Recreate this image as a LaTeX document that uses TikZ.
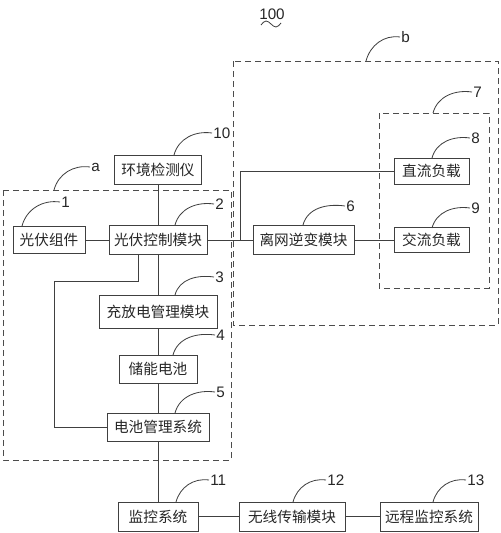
\documentclass[tikz,border=0pt]{standalone}
\usepackage{fontspec}
\setmainfont{Liberation Sans}
\newfontfamily\cjk{Noto Sans CJK SC}
\usetikzlibrary{positioning}

\begin{document}
\begin{tikzpicture}
	[x=0.03cm,y=-0.03cm,
	 blk/.style={draw=black!75,line width=0.8pt,rectangle,minimum height=0.87cm,inner sep=1pt,text=black!85,font=\cjk\fontsize{12.5}{15}\selectfont},
	 grp/.style={draw=black!70,line width=0.7pt,dash pattern=on 0.18cm off 0.12cm},
	 wire/.style={draw=black!75,line width=0.7pt},
	 lbl/.style={anchor=west,inner sep=1pt,text=black!85,font=\fontsize{13}{15}\selectfont},
	 lead/.style={draw=black!75,line width=0.7pt}]
	\useasboundingbox (0,0) rectangle (500,533);

	\draw[grp] (3,190) rectangle (231,460);
	\draw[grp] (233,61) rectangle (498,325);
	\draw[grp] (379,113) rectangle (489,288);

	\node[blk, minimum width=2.61cm] (n10) at (158,170) {环境检测仪};
	\node[blk, minimum width=2.16cm, minimum height=0.81cm] (n1) at (49,240) {光伏组件};
	\node[blk, minimum width=2.94cm] (n2) at (158,240) {光伏控制模块};
	\node[blk, minimum width=3.54cm, minimum height=0.99cm] (n3) at (158,311.5) {充放电管理模块};
	\node[blk, minimum width=2.34cm, minimum height=0.84cm] (n4) at (158,369) {储能电池};
	\node[blk, minimum width=3.06cm, minimum height=0.84cm] (n5) at (158,427) {电池管理系统};
	\node[blk, minimum width=3.03cm] (n6) at (303.5,240) {离网逆变模块};
	\node[blk, minimum width=2.25cm, minimum height=0.78cm] (n8) at (431.5,171) {直流负载};
	\node[blk, minimum width=2.25cm, minimum height=0.76cm] (n9) at (431.5,240) {交流负载};
	\node[blk, minimum width=2.4cm] (n11) at (158,516.5) {监控系统};
	\node[blk, minimum width=3.18cm] (n12) at (292,516.5) {无线传输模块};
	\node[blk, minimum width=2.94cm] (n13) at (429,516.5) {远程监控系统};

	\node[inner sep=1pt,text=black!85,font=\fontsize{13}{15}\selectfont] (fig) at (272,14) {100};
	\draw[lead] (261,25) sin (266,21) cos (271,24) sin (276,27) cos (281,23);

	\node[lbl] (la) at (90,167) {a};
	\node[lbl] (lb) at (400,37) {b};
	\node[lbl] (l1) at (60,202) {1};
	\node[lbl] (l2) at (214,204) {2};
	\node[lbl] (l3) at (214,277) {3};
	\node[lbl] (l4) at (215,335) {4};
	\node[lbl] (l5) at (215,392) {5};
	\node[lbl] (l6) at (345,206) {6};
	\node[lbl] (l7) at (472,92) {7};
	\node[lbl] (l8) at (470,138) {8};
	\node[lbl] (l9) at (470,208) {9};
	\node[lbl] (l10) at (212,133) {10};
	\node[lbl] (l11) at (209,480) {11};
	\node[lbl] (l12) at (326,480) {12};
	\node[lbl] (l13) at (466,480) {13};

	\coordinate (fa) at (54,190);
	\coordinate (fb) at (366,61);
	\coordinate (f1) at (22,226);
	\coordinate (f2) at (175,225);
	\coordinate (f3) at (175,295);
	\coordinate (f4) at (173,355);
	\coordinate (f5) at (175,413);
	\coordinate (f6) at (303,225);
	\coordinate (f7) at (433,113);
	\coordinate (f8) at (432,158);
	\coordinate (f9) at (432,228);
	\coordinate (f10) at (174,155);
	\coordinate (f11) at (176,502);
	\coordinate (f12) at (293,502);
	\coordinate (f13) at (433,502);

	\foreach \foot/\lab in {fa/la,fb/lb,f1/l1,f2/l2,f3/l3,f4/l4,f5/l5,f6/l6,f7/l7,f8/l8,f9/l9,f10/l10,f11/l11,f12/l12,f13/l13}
		\draw[lead] (\foot) to[out=75,in=172] (\lab.west);

	\foreach \from/\to in {n10/n2,n1/n2,n2/n3,n3/n4,n4/n5,n5/n11,n2/n6,n6/n9,n11/n12,n12/n13}
		\draw[wire] (\from) -- (\to);

	\coordinate (j) at (240,240);
	\draw[wire] (j) |- (n8.west);

	\coordinate (k1) at (138,281);
	\coordinate (k2) at (54,281);
	\draw[wire] (n2.south -| k1) -- (k1) -- (k2) |- (n5.west);
\end{tikzpicture}
\end{document}
